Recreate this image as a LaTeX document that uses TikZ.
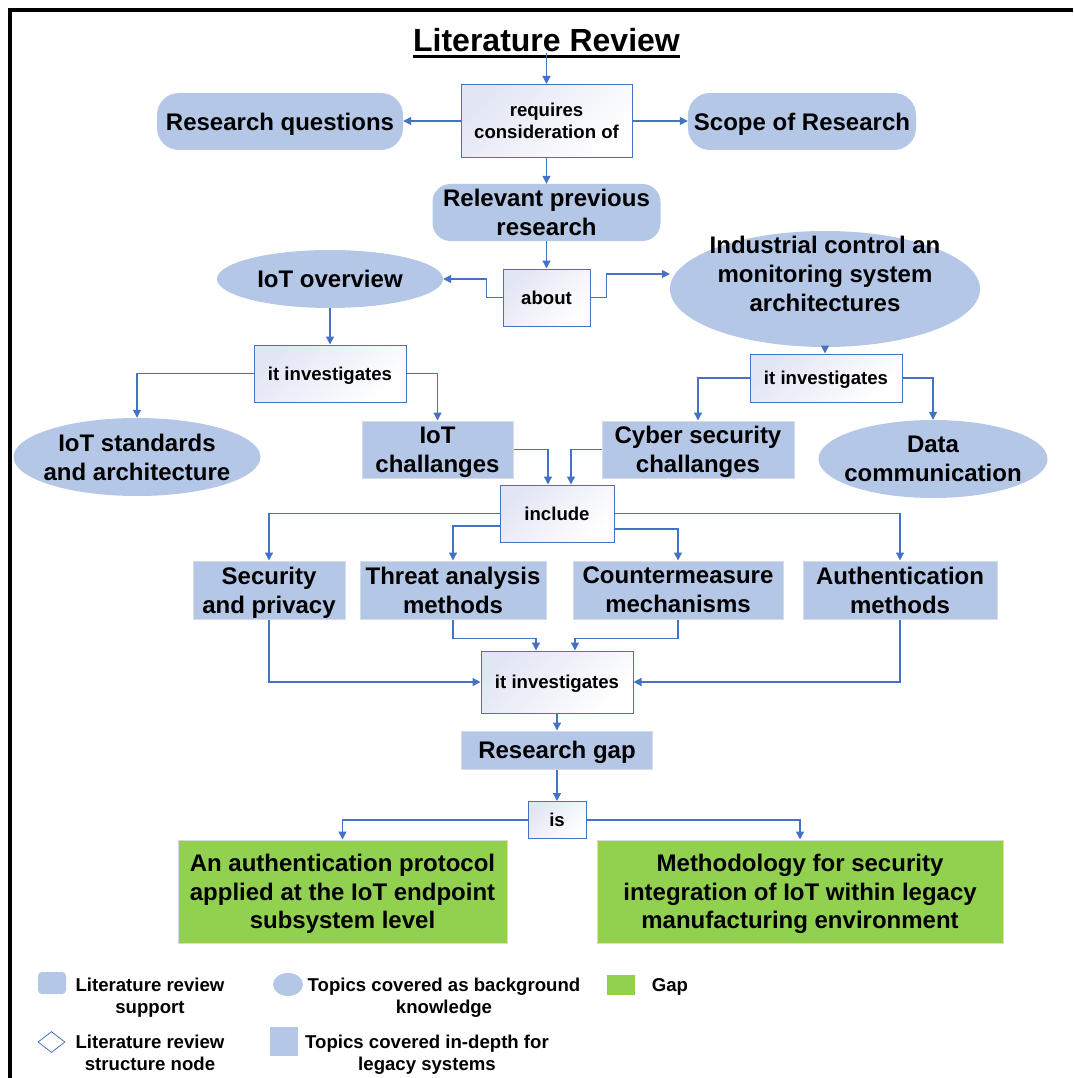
\documentclass[tikz,border=0pt]{standalone}
\usepackage{fontspec}
\setmainfont{Liberation Sans}
\usetikzlibrary{arrows.meta,shapes.geometric,calc}

\definecolor{boxblue}{HTML}{B4C7E7}
\definecolor{gapgreen}{HTML}{92D050}
\definecolor{linkblue}{HTML}{4472C4}
\definecolor{shadetint}{HTML}{E2E6F4}
\definecolor{softedge}{HTML}{D6DCE5}

\tikzset{
  dims/.style 2 args={minimum width=#1pt, minimum height=#2pt},
  bigtxt/.style={font=\fontsize{24}{29}\selectfont\bfseries, align=center,
                 inner sep=0pt, text depth=0pt},
  smalltxt/.style={font=\fontsize{18.6}{21.5}\selectfont\bfseries, align=center,
                 inner sep=0pt, text depth=0pt},
  legtxt/.style={smalltxt, font=\fontsize{18.6}{22}\selectfont\bfseries},
  pill/.style={bigtxt, rectangle, rounded corners=22pt, fill=boxblue},
  topic/.style={bigtxt, ellipse, fill=boxblue, inner xsep=-40pt},
  depthbox/.style={bigtxt, rectangle, fill=boxblue, draw=softedge, line width=1pt},
  gapbox/.style={bigtxt, rectangle, fill=gapgreen, draw=black!15, line width=1pt,
                 font=\fontsize{24}{28.5}\selectfont\bfseries},
  structbox/.style={smalltxt, rectangle, draw=linkblue, line width=1pt,
                    left color=shadetint, right color=white, shading angle=45},
  link/.style={draw=linkblue, line width=1.3pt, -{Triangle[length=8pt,width=8pt]}},
}

\begin{document}
\begin{tikzpicture}[x=1pt,y=-1pt]
\useasboundingbox (0,0) rectangle (1073,1078);

% frame edges
\draw[line width=4pt] (8,10) -- (1073,10);
\draw[line width=4pt] (10,8) -- (10,1078);

% title
\node[font=\fontsize{32}{36}\selectfont\bfseries, inner sep=0pt, anchor=base] (ttl) at (546.5,52) {Literature Review};
\draw[line width=2.6pt] ([yshift=-4.5pt]ttl.base west) -- ([yshift=-4.5pt]ttl.base east);

% upper part
\node[structbox, dims={171}{73}] (req) at (546.5,121) {requires\\consideration of};
\node[pill, dims={246}{57}] (rq) at (280,121.5) {Research questions};
\node[pill, dims={228}{57}] (scope) at (802,121.5) {Scope of Research};
\node[pill, dims={228}{57}, rounded corners=18pt] (rel) at (546.5,212.5) {Relevant previous\\research};
\node[structbox, dims={87}{57}] (about) at (546.5,297.5) {about};
\node[topic, dims={226}{58}] (iotov) at (330,279) {IoT overview};
\node[topic, dims={310}{116}] (ics) at (825,289) {};
\node[bigtxt] (icstxt) at (825,274) {Industrial control an\\monitoring system\\architectures};

% second level
\node[structbox, dims={152}{57}] (inv1) at (330,373.5) {it investigates};
\node[structbox, dims={152}{48}] (inv2) at (826,378) {it investigates};
\node[topic, dims={247}{78}] (iotstd) at (137,457) {IoT standards\\and architecture};
\node[depthbox, dims={151}{57}] (iotch) at (437.5,449.5) {IoT\\challanges};
\node[depthbox, dims={192}{57}] (cyber) at (698,449.5) {Cyber security\\challanges};
\node[topic, dims={229}{78}] (data) at (933,459) {Data\\communication};

% challenges breakdown
\node[structbox, dims={114}{57}] (incl) at (557,513.5) {include};
\node[depthbox, dims={152}{58}] (sec) at (269,590) {Security\\and privacy};
\node[depthbox, dims={186}{58}] (threat) at (453,590) {Threat analysis\\methods};
\node[depthbox, dims={210}{58}] (counter) at (678,590) {Countermeasure\\mechanisms};
\node[depthbox, dims={194}{58}] (auth) at (900,590) {Authentication\\methods};
\node[structbox, dims={152}{62}] (inv3) at (557,682) {it investigates};
\node[depthbox, dims={191}{38}] (gap) at (557,750) {Research gap};
\node[structbox, dims={58}{37}] (is) at (557,820) {is};
\node[gapbox, dims={329}{103}] (g1) at (342.5,891.5) {An authentication protocol\\applied at the IoT endpoint\\subsystem level};
\node[gapbox, dims={406}{103}] (g2) at (800,891.5) {Methodology for security\\integration of IoT within legacy\\manufacturing environment};

% connectors
\draw[link] (ttl.south) -- (req.north);
\draw[link] (req.west) -- (req.west -| rq.east);
\draw[link] (req.east) -- (req.east -| scope.west);
\draw[link] (req.south) -- (rel.north);
\draw[link] (rel.south) -- (about.north);
\draw[link] (about.west) -- ++(-16,0) |- (iotov.east);
\draw[link] (about.east) -- ++(16,0) |- ([yshift=15pt]ics.west);
\draw[link] (iotov.south) -- (inv1.north);
\draw[link] (ics.south) -- (ics.south |- inv2.north);
\draw[link] (inv1.west) -| (iotstd.north);
\draw[link] (inv1.east) -| (iotch.north);
\draw[link] (inv2.west) -| (cyber.north);
\draw[link] (inv2.east) -| (data.north);
\draw[link] (iotch.east) -| ([xshift=-9pt]incl.north);
\draw[link] (cyber.west) -| ([xshift=14pt]incl.north);
\draw[link] (incl.west) -| (sec.north);
\draw[link] ([yshift=-12.5pt]incl.west) -| (threat.north);
\draw[link] ([yshift=-15.5pt]incl.east) -| (counter.north);
\draw[link] (incl.east) -| (auth.north);
\draw[link] (sec.south) |- (inv3.west);
\draw[link] (auth.south) |- (inv3.east);
\draw[link] (threat.south) -- ++(0,19) -| ([xshift=-21pt]inv3.north);
\draw[link] (counter.south) -- ++(0,19) -| ([xshift=18pt]inv3.north);
\draw[link] (inv3.south) -- (gap.north);
\draw[link] (gap.south) -- (is.north);
\draw[link] (is.west) -| (g1.north);
\draw[link] (is.east) -| (g2.north);

% key
\node[rectangle, rounded corners=4pt, fill=boxblue, dims={28}{22}, inner sep=0pt] (k1) at (52,983) {};
\node[legtxt] (k1t) at (150,996) {Literature review\\support};
\node[ellipse, fill=boxblue, dims={30}{23}, inner sep=0pt] (k2) at (288,984.5) {};
\node[legtxt] (k2t) at (444,996) {Topics covered as background\\knowledge};
\node[rectangle, fill=gapgreen, dims={28}{20}, inner sep=0pt] (k3) at (621,985) {};
\node[legtxt] (k3t) at (670,985) {Gap};
\node[diamond, draw=linkblue, fill=white, line width=0.8pt, dims={27}{21}, inner sep=0pt] (k4) at (51.5,1042) {};
\node[legtxt] (k4t) at (150,1053) {Literature review\\structure node};
\node[rectangle, fill=boxblue, dims={28}{29}, inner sep=0pt] (k5) at (284,1041.5) {};
\node[legtxt] (k5t) at (427,1053) {Topics covered in-depth for\\legacy systems};
\end{tikzpicture}
\end{document}
